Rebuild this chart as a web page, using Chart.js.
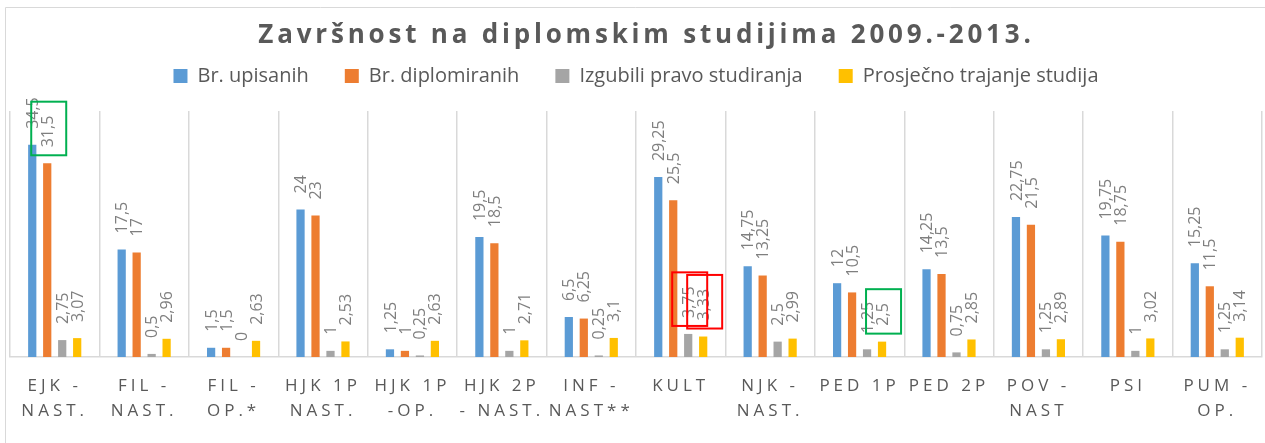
<!DOCTYPE html>
<html>
<head>
<meta charset="utf-8">
<title>Završnost na diplomskim studijima</title>
<script src="https://cdn.jsdelivr.net/npm/chart.js@4.4.1/dist/chart.umd.min.js"></script>
<style>
	html, body { margin: 0; padding: 0; background: #fff; }
	#mycanvas { display: block; }
</style>
</head>
<body>
<canvas id="mycanvas" width="1265" height="443"></canvas>
<script>
var chartTitle = "Završnost na diplomskim studijima 2009.-2013.";

var studiji = [
	["EJK -", "NAST."], ["FIL -", "NAST."], ["FIL -", "OP.*"], ["HJK 1P", "NAST."],
	["HJK 1P", "-OP."], ["HJK 2P", "- NAST."], ["INF -", "NAST**"], ["KULT"],
	["NJK -", "NAST."], ["PED 1P"], ["PED 2P"], ["POV -", "NAST"], ["PSI"], ["PUM -", "OP."]
];

var upisanih = [34.5, 17.5, 1.5, 24, 1.25, 19.5, 6.5, 29.25, 14.75, 12, 14.25, 22.75, 19.75, 15.25];
var diplomiranih = [31.5, 17, 1.5, 23, 1, 18.5, 6.25, 25.5, 13.25, 10.5, 13.5, 21.5, 18.75, 11.5];
var izgubili = [2.75, 0.5, 0, 1, 0.25, 1, 0.25, 3.75, 2.5, 1.25, 0.75, 1.25, 1, 1.25];
var trajanje = [3.07, 2.96, 2.63, 2.53, 2.63, 2.71, 3.1, 3.33, 2.99, 2.5, 2.85, 2.89, 3.02, 3.14];

// labels that are circled in the picture: [dataset, category, colour]
var oznake = [[1, 0, "#00b050"], [2, 7, "#ff0000"], [3, 7, "#ff0000"], [3, 9, "#00b050"]];

var sivo = "#595959";

function broj(v) {
	return String(v).replace(".", ",");
}

// frame, data labels, spaced tick labels and the spaced title
var crtez = {
	id: "crtez",
	beforeDraw: function(chart) {
		var ctx = chart.ctx;
		ctx.save();
		ctx.strokeStyle = "#d9d9d9";
		ctx.lineWidth = 1;
		ctx.beginPath();
		ctx.moveTo(5.5, chart.height);
		ctx.lineTo(5.5, 7.5);
		ctx.lineTo(chart.width, 7.5);
		ctx.stroke();
		ctx.restore();
	},
	afterDatasetsDraw: function(chart) {
		var ctx = chart.ctx;
		ctx.save();
		ctx.font = "16px 'Open Sans'";
		ctx.fillStyle = "#7f7f7f";
		ctx.textAlign = "left";
		ctx.textBaseline = "middle";
		chart.data.datasets.forEach(function(ds, i) {
			chart.getDatasetMeta(i).data.forEach(function(bar, j) {
				ctx.save();
				ctx.translate(bar.x + 1, bar.y - 16);
				ctx.rotate(-Math.PI / 2);
				ctx.fillText(broj(ds.data[j]), 0, 0);
				ctx.restore();
			});
		});
		ctx.lineWidth = 2;
		oznake.forEach(function(o) {
			var bar = chart.getDatasetMeta(o[0]).data[o[1]];
			var w = ctx.measureText(broj(chart.data.datasets[o[0]].data[o[1]])).width;
			ctx.strokeStyle = o[2];
			ctx.strokeRect(bar.x - 16, bar.y - 8 - (w + 22), 35, w + 22);
		});
		ctx.restore();
		// x tick labels are drawn after this (ticks z = 1), letter-spaced like the original
		ctx.letterSpacing = "4px";
	},
	afterDraw: function(chart) {
		var ctx = chart.ctx;
		ctx.letterSpacing = "0px";
		ctx.save();
		ctx.letterSpacing = "3.8px";
		ctx.font = "bold 26px 'Open Sans'";
		ctx.fillStyle = sivo;
		ctx.textAlign = "center";
		ctx.textBaseline = "alphabetic";
		ctx.fillText(chartTitle, chart.width / 2 + 14, 43);
		ctx.restore();
		ctx.letterSpacing = "0px";
	}
};

var chartdata = {
	labels: studiji,
	datasets: [
		{ label: "Br. upisanih", backgroundColor: "#5b9bd5", data: upisanih },
		{ label: "Br. diplomiranih", backgroundColor: "#ed7d31", data: diplomiranih },
		{ label: "Izgubili pravo studiranja", backgroundColor: "#a5a5a5", data: izgubili },
		{ label: "Prosječno trajanje studija", backgroundColor: "#ffc000", data: trajanje }
	]
};

var ctx = document.getElementById("mycanvas");

var barGraph = new Chart(ctx, {
	type: "bar",
	data: chartdata,
	plugins: [crtez],
	options: {
		responsive: false,
		animation: false,
		devicePixelRatio: 1,
		categoryPercentage: 0.67,
		barPercentage: 0.55,
		layout: { padding: { top: 30, left: 10, right: 3, bottom: 3 } },
		plugins: {
			tooltip: { enabled: false },
			// empty box under the legend, only keeps the gap above the plot
			title: {
				display: true,
				text: "",
				weight: 0,
				font: { size: 1, lineHeight: 1 },
				padding: { top: 0, bottom: 14 }
			},
			legend: {
				position: "top",
				labels: {
					boxWidth: 14,
					boxHeight: 14,
					padding: 36,
					color: sivo,
					font: { family: "'Open Sans'", size: 20 }
				}
			}
		},
		scales: {
			x: {
				grid: { color: "#d9d9d9", lineWidth: 1.5, drawTicks: false, offset: true },
				border: { color: "#d9d9d9", width: 1.5 },
				ticks: {
					z: 1,
					padding: 16,
					autoSkip: false,
					maxRotation: 0,
					color: sivo,
					font: { family: "'Open Sans'", size: 17, lineHeight: 1.5 }
				}
			},
			y: {
				display: false,
				min: 0,
				max: 40
			}
		}
	}
});
</script>
</body>
</html>
